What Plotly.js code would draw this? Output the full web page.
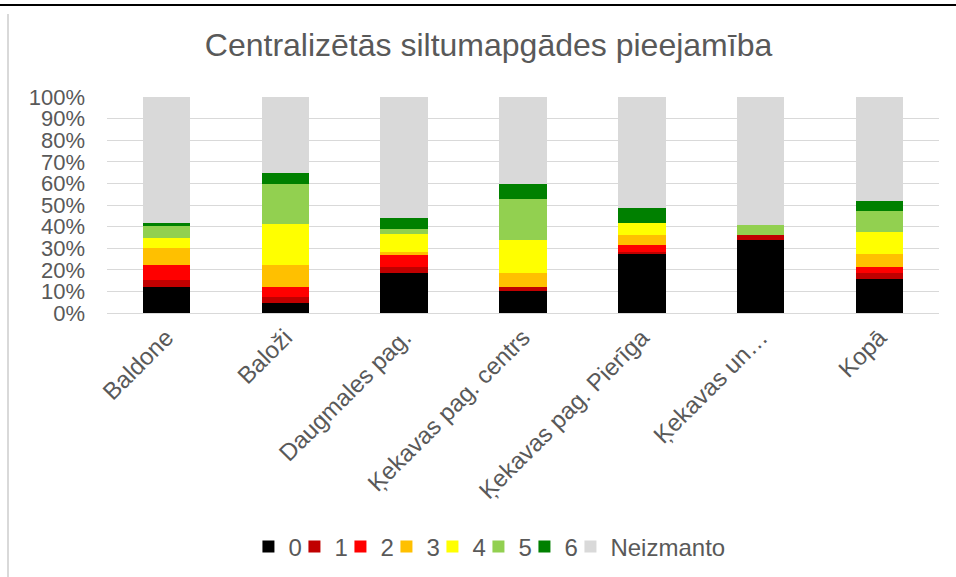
<!DOCTYPE html>
<html>
<head>
<meta charset="utf-8">
<script src="https://cdn.plot.ly/plotly-3.0.1.min.js"></script>
<style>
html,body{margin:0;padding:0;background:#fff;}
#wrap{position:relative;width:956px;height:577px;overflow:hidden;}
#topline{position:absolute;left:0;top:4px;width:956px;height:2px;background:#000;}
#leftline{position:absolute;left:7px;top:14px;width:2px;height:570px;background:#D9D9D9;}
#chart{position:absolute;left:0;top:0;width:956px;height:577px;}
</style>
</head>
<body>
<div id="wrap">
<div id="chart"></div>
<div id="topline"></div>
<div id="leftline"></div>
</div>
<script>
const categories = ["Baldone", "Baloži", "Daugmales pag.", "Ķekavas pag. centrs", "Ķekavas pag. Pierīga", "Ķekavas un…", "Kopā"];
const seriesNames = ["0", "1", "2", "3", "4", "5", "6", "Neizmanto"];
const s0 = [12.2, 4.8, 18.3, 10.4, 27.1, 33.6, 15.9];
const s1 = [3.0, 2.5, 3.2, 1.8, 1.2, 2.3, 2.4];
const s2 = [6.8, 4.9, 5.3, 0.0, 3.4, 0.3, 3.2];
const s3 = [8.3, 10.2, 1.5, 6.5, 4.2, 0.0, 5.7];
const s4 = [4.2, 18.6, 8.5, 15.0, 5.7, 0.0, 10.1];
const s5 = [5.7, 18.8, 2.1, 18.9, 0.0, 4.4, 9.8];
const s6 = [1.3, 4.9, 4.9, 7.3, 6.9, 0.0, 4.8];
const sN = [58.5, 35.3, 56.2, 40.1, 51.5, 59.4, 48.1];
const seriesValues = [s0, s1, s2, s3, s4, s5, s6, sN];
const colors = ["#000000", "#C00000", "#FF0000", "#FFC000", "#FFFF00", "#92D050", "#008000", "#D9D9D9"];

const FONT = "Liberation Sans, Arial, sans-serif";
const traces = seriesNames.map((n, i) => ({
  type: "bar",
  name: n,
  x: categories,
  y: seriesValues[i].map(v => v / 100),
  marker: {color: colors[i], line: {width: 0}},
  legendwidth: (n.length > 1 ? 110 : 1),
  hoverinfo: "skip"
}));

const layout = {
  width: 956, height: 577,
  margin: {l: 107, r: 17, t: 97, b: 264, pad: 0},
  paper_bgcolor: "#ffffff",
  plot_bgcolor: "#ffffff",
  barmode: "stack",
  bargap: 0.6,
  font: {family: FONT, color: "#595959", size: 22},
  title: {
    text: "Centralizētās siltumapgādes pieejamība",
    font: {family: FONT, size: 32, color: "#595959"},
    x: 0.511, xref: "container", xanchor: "center",
    y: 0.922, yref: "container", yanchor: "middle"
  },
  xaxis: {
    type: "category",
    tickangle: -45,
    tickfont: {family: FONT, size: 24, color: "#595959"},
    showgrid: false,
    showline: true, linecolor: "#D9D9D9", linewidth: 1,
    ticks: "",
    ticklabelstandoff: 0,
    fixedrange: true
  },
  yaxis: {
    range: [0, 1],
    dtick: 0.1,
    tick0: 0,
    tickformat: ".0%",
    tickfont: {family: FONT, size: 22, color: "#595959"},
    showgrid: true, gridcolor: "#D9D9D9", gridwidth: 1,
    zeroline: false,
    showline: false,
    ticks: "",
    ticklabelstandoff: 21,
    fixedrange: true
  },
  showlegend: true,
  legend: {
    orientation: "h",
    x: 0.17, xref: "paper", xanchor: "left",
    y: 0.052, yref: "container", yanchor: "middle",
    font: {family: FONT, size: 24, color: "#595959"},
    traceorder: "normal",
    itemwidth: 30,
    bgcolor: "rgba(0,0,0,0)"
  }
};

Plotly.newPlot("chart", traces, layout, {staticPlot: true, displayModeBar: false});
</script>
</body>
</html>
